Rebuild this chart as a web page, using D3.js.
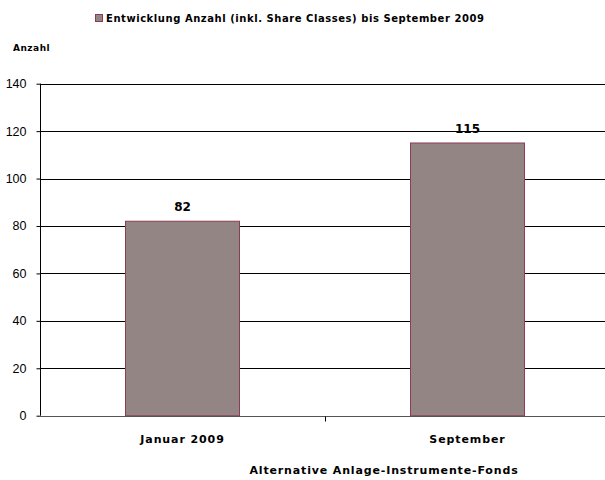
<!DOCTYPE html>
<html><head><meta charset="utf-8">
<script src="https://cdn.jsdelivr.net/npm/d3@7"></script>
<style>body{margin:0;background:#fff;} svg{display:block;}</style>
</head><body>
<svg id="chart" width="605" height="480"></svg>
<script>
const categories = ["Januar 2009", "September"];
const values = [82, 115];
const yTicks = [0, 20, 40, 60, 80, 100, 120, 140];
const seriesName = "Entwicklung Anzahl (inkl. Share Classes) bis September 2009";
const yTitle = "Anzahl";
const xTitle = "Alternative Anlage-Instrumente-Fonds";

const svg = d3.select("#chart");
const mLeft = 40, mRight = 610, mTop = 83.7, mBottom = 415.7;
const x = d3.scaleBand().domain(categories).range([mLeft, mRight]).paddingInner(0).paddingOuter(0);
const y = d3.scaleLinear().domain([0, 140]).range([mBottom, mTop]);
const labelFont = "DejaVu Sans, Verdana, sans-serif";

// gridlines
svg.append("g").selectAll("line").data(yTicks.filter(d => d > 0)).join("line")
  .attr("x1", mLeft).attr("x2", 605)
  .attr("y1", d => Math.round(y(d)) + 0.5).attr("y2", d => Math.round(y(d)) + 0.5)
  .attr("stroke", "#000").attr("stroke-width", 1);

// bars
const bw = x.bandwidth() * 0.4;
svg.append("g").selectAll("rect").data(values).join("rect")
  .attr("x", (d, i) => x(categories[i]) + (x.bandwidth() - bw) / 2)
  .attr("y", d => y(d))
  .attr("width", bw)
  .attr("height", d => y(0) - y(d))
  .attr("fill", "#928584")
  .attr("stroke", "#8c3c55")
  .attr("stroke-width", 1);

// y axis
const yAxis = d3.axisLeft(y).tickValues(yTicks).tickSize(4).tickPadding(10);
const gy = svg.append("g").attr("transform", `translate(${mLeft + 0.5},0)`).call(yAxis);
gy.select(".domain").attr("stroke", "#000").attr("d", `M0,${mTop}V${mBottom}`);
gy.selectAll(".tick line").attr("stroke", "#000");
gy.selectAll(".tick text").attr("font-family", "Liberation Sans, Arial, sans-serif").attr("font-size", 12.5).attr("fill", "#000");

// x axis
const xAxis = d3.axisBottom(x).tickValues([]).tickSizeOuter(0);
const gx = svg.append("g").attr("transform", `translate(0,${Math.round(mBottom) + 0.5})`).call(xAxis);
gx.select(".domain").attr("stroke", "#555").attr("d", `M${mLeft},0H605`);
gx.selectAll(".xtick").data([categories[1]]).join("line").attr("class", "xtick")
  .attr("x1", d => x(d) + 0.5).attr("x2", d => x(d) + 0.5).attr("y1", 0).attr("y2", 5).attr("stroke", "#000");
gx.selectAll(".xlab").data(categories).join("text").attr("class", "xlab")
  .attr("x", d => x(d) + x.bandwidth() / 2).attr("y", 26.5)
  .attr("text-anchor", "middle").attr("font-family", labelFont).attr("font-weight", "bold")
  .attr("font-size", 11).attr("letter-spacing", 0.9).attr("fill", "#000").text(d => d);

// value labels
svg.append("g").selectAll("text").data(values).join("text")
  .attr("x", (d, i) => x(categories[i]) + x.bandwidth() / 2)
  .attr("y", d => y(d) - 10)
  .attr("text-anchor", "middle").attr("font-family", labelFont).attr("font-weight", "bold")
  .attr("font-size", 12).attr("fill", "#000").text(d => d);

// legend
svg.append("rect").attr("x", 95.5).attr("y", 14.5).attr("width", 7).attr("height", 7)
  .attr("fill", "#928584").attr("stroke", "#8c3c55");
svg.append("text").attr("x", 106).attr("y", 22).attr("font-family", labelFont).attr("font-weight", "bold")
  .attr("font-size", 10).attr("letter-spacing", 0.55).attr("fill", "#000").text(seriesName);

// titles
svg.append("text").attr("x", 13).attr("y", 51).attr("font-family", labelFont).attr("font-weight", "bold")
  .attr("font-size", 9).attr("letter-spacing", 0.5).attr("fill", "#000").text(yTitle);
svg.append("text").attr("x", 384).attr("y", 474).attr("text-anchor", "middle").attr("font-family", labelFont).attr("font-weight", "bold")
  .attr("font-size", 11).attr("letter-spacing", 0.85).attr("fill", "#000").text(xTitle);
</script>
</body></html>
